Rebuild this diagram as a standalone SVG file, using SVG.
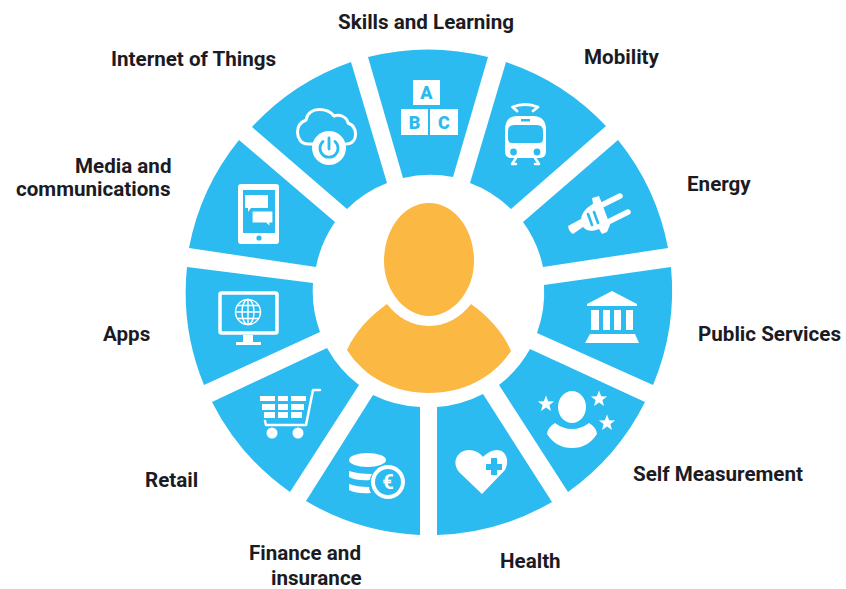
<svg xmlns="http://www.w3.org/2000/svg" width="846" height="589" viewBox="0 0 846 589">
<style>
.seg{fill:#2bbbf0}
.w{fill:#fff}
.b{fill:#2bbbf0}
.ws{fill:none;stroke:#fff;stroke-linecap:round;stroke-linejoin:round}
.bs{fill:none;stroke:#2bbbf0}
.lbl{font-family:Roboto,"Liberation Sans",sans-serif;font-weight:700;font-size:20.6px;fill:#1b1b24}
.ltr{font-family:Roboto,"Liberation Sans",sans-serif;font-weight:900;font-size:18px;fill:#2bbbf0;text-anchor:middle}
.per{fill:#fbb843}
</style>
<defs>
<polygon id="star" points="0,-8.5 2.2,-2.7 8.1,-2.6 3.4,1.1 5,7 0,3.6 -5,7 -3.4,1.1 -8.1,-2.6 -2.2,-2.7"/>
</defs>
<rect width="846" height="589" fill="#fff"/>

<g id="skills-and-learning">
<path class="seg" d="M368,57 A244,244 0 0 1 488,57 L453,177 A117,117 0 0 0 403,178 Z"/>
<g class="w"><rect x="413" y="80" width="27" height="25"/><rect x="401" y="109" width="27" height="26"/><rect x="430" y="109" width="28" height="26"/></g>
<text class="ltr" x="426.500" y="99">A</text><text class="ltr" x="414.500" y="128.500">B</text><text class="ltr" x="444" y="128.500">C</text>
<text class="lbl" x="338" y="29">Skills and Learning</text>
</g>

<g id="mobility">
<path class="seg" d="M506,62 A244,244 0 0 1 606,126 L511,209 A117,117 0 0 0 470,183 Z"/>
<path class="w" d="M517,116 H533 Q546,116 546,130 V151 Q546,158 540,158 H511 Q505,158 505,151 V130 Q505,116 517,116 Z"/>
<path class="b" d="M514,125 H537 Q543,125 543,131 V139 Q543,143 539,143 H512 Q508,143 508,139 V131 Q508,125 514,125 Z"/>
<rect class="b" x="521" y="119" width="9" height="2.500"/>
<circle class="b" cx="513.500" cy="152" r="3.400"/><circle class="b" cx="537" cy="152" r="3.400"/>
<path class="ws" stroke-width="2.800" d="M517,111 L512.500,107 Q525,102 538,107 L533,111"/>
<path class="ws" stroke-width="2.500" d="M516,158 L512,164 H516 M535,158 L539,164 H535"/>
<text class="lbl" x="584" y="64">Mobility</text>
</g>

<g id="energy">
<path class="seg" d="M618,140 A244,244 0 0 1 668,248 L543,267 A117,117 0 0 0 523,222 Z"/>
<path class="w" d="M568,226 L581,219 C582,212 587,207 593,204 L592,198 L599,196 L601,201 L610,225 L607,232 L602,234 L599,229 C592,232 586,231 583,227 L573,234 Q569,232 568,226 Z"/>
<g class="ws" stroke-width="5.500"><path d="M600,206 L620,196"/><path d="M606,223 L628,212"/></g>
<g class="bs" stroke-width="2.600" stroke-linecap="round"><path d="M588,214 L592,225"/><path d="M594,212 L598,223"/></g>
<text class="lbl" x="687" y="191">Energy</text>
</g>

<g id="public-services">
<path class="seg" d="M671,267 A244,244 0 0 1 653,385 L537,333 A117,117 0 0 0 544,285 Z"/>
<g class="w">
<polygon points="612,291 637,304 637,306 587,306 587,304"/>
<rect x="591" y="310" width="8" height="20"/><rect x="603" y="310" width="7" height="20"/><rect x="614" y="310" width="7" height="20"/><rect x="626" y="310" width="7" height="20"/>
<polygon points="590,334 635,334 639,343 585,343"/>
</g>
<text class="lbl" x="698" y="341">Public Services</text>
</g>

<g id="self-measurement">
<path class="seg" d="M645,402 A244,244 0 0 1 568,492 L499,385 A117,117 0 0 0 530,349 Z"/>
<g class="w">
<ellipse cx="572" cy="407" rx="14" ry="16"/>
<path d="M555,423 Q563,429 572,429 Q581,429 589,423 Q596,427 597,434 Q588,448 572,448 Q556,448 547,434 Q548,427 555,423 Z"/>
<use href="#star" x="546" y="404"/><use href="#star" x="599" y="399"/><use href="#star" x="607" y="423"/>
</g>
<text class="lbl" x="633" y="481">Self Measurement</text>
</g>

<g id="health">
<path class="seg" d="M552,502 A244,244 0 0 1 437,535 V407 A117,117 0 0 0 483,394 Z"/>
<path class="w" d="M482,494 L460,473 C450,462 458,450 469,450 C475,450 480,453 483,457 C487,453 492,450 497,450 C506,450 510,461 505,470 Z"/>
<path class="b" d="M491,458 H497 V464 H502 V470 H497 V475 H491 V470 H486 V464 H491 Z"/>
<text class="lbl" x="500" y="568">Health</text>
</g>

<g id="finance-and-insurance">
<path class="seg" d="M420,535 A244,244 0 0 1 306,501 L373,395 A117,117 0 0 0 420,407 Z"/>
<g class="w">
<ellipse cx="367.500" cy="460" rx="18.500" ry="7"/>
<path d="M349,471 Q358,474 372,474 Q370,477 370,480 Q357,481 349,477 Z"/>
<path d="M349,484 Q357,487 369,487 Q369,490 371,493 Q357,494 349,490 Z"/>
<circle cx="388" cy="482" r="17"/>
</g>
<circle class="b" cx="388" cy="482" r="13"/>
<text x="388" y="489" text-anchor="middle" font-family="Roboto,'Liberation Sans',sans-serif" font-weight="700" font-size="20" fill="#fff">€</text>
<text class="lbl" x="249" y="560">Finance and</text>
<text class="lbl" x="271" y="584.500">insurance</text>
</g>

<g id="retail">
<path class="seg" d="M212,402 A244,244 0 0 0 290,492 L359,385 A117,117 0 0 1 327,348 Z"/>
<g class="w">
<rect x="260" y="396" width="15" height="5"/><rect x="278" y="396" width="10" height="5"/><rect x="291" y="396" width="15" height="5"/>
<rect x="262" y="404" width="13" height="6"/><rect x="278" y="404" width="10" height="6"/><rect x="291" y="404" width="13" height="6"/>
<rect x="264" y="412" width="11" height="6"/><rect x="278" y="412" width="10" height="6"/><rect x="291" y="412" width="11" height="6"/>
<circle cx="272" cy="433" r="5.500"/><circle cx="298" cy="433" r="5.500"/>
</g>
<path class="ws" stroke-width="2.500" d="M320,390 H313 L306,425 H266 L265,421"/>
<text class="lbl" x="145" y="487">Retail</text>
</g>

<g id="apps">
<path class="seg" d="M187,267 A244,244 0 0 0 204,385 L320,332 A117,117 0 0 1 313,283 Z"/>
<rect class="ws" x="220" y="293" width="57" height="40" rx="1.500" stroke-width="3.500"/>
<path class="w" d="M243,335 H253 V342 H261 V345 H236 V342 H243 Z"/>
<g class="ws" stroke-width="1.400">
<circle cx="248" cy="312" r="12.500"/>
<ellipse cx="248" cy="312" rx="6" ry="12.500"/>
<path d="M248,299.500 V324.500 M235.500,312 H260.500 M237.500,305.500 H258.500 M237.500,318.500 H258.500"/>
</g>
<text class="lbl" x="103" y="341">Apps</text>
</g>

<g id="media-and-communications">
<path class="seg" d="M189,248 A244,244 0 0 1 239,140 L335,222 A117,117 0 0 0 316,267 Z"/>
<rect class="w" x="238" y="184" width="41" height="60" rx="3"/>
<rect class="b" x="243" y="190" width="32" height="43"/>
<circle class="b" cx="259" cy="238" r="2.600"/>
<path class="w" d="M245,195 H268 V208 H251 L248,212 V208 H245 Z"/>
<path class="w" stroke="#2bbbf0" stroke-width="1.200" d="M252,211 H273 V223 H270 V227 L266,223 H252 Z"/>
<text class="lbl" x="75" y="173">Media and</text>
<text class="lbl" x="16" y="196">communications</text>
</g>

<g id="internet-of-things">
<path class="seg" d="M252,127 A244,244 0 0 1 351,62 L387,183 A117,117 0 0 0 347,209 Z"/>
<path class="ws" stroke-width="3" d="M315,144 H308 C301,144 297.500,138 297.500,132 C297.500,126 301,122 306,120 C307,113 313,109.500 319,109.500 C325,109.500 331,112 334,116 C340,114 347,117 348,123 C353,125 355.500,129 355.500,134 C355.500,140 352,144 346,144"/>
<circle class="w" cx="329" cy="148" r="17"/>
<path class="bs" stroke-width="2.800" stroke-linecap="round" d="M323,141.500 A9,9 0 1 0 335,141.500 M329,138 V149"/>
<text class="lbl" x="111" y="66">Internet of Things</text>
</g>

<g id="person">
<path class="per" d="M429,203 C455,203 474,230 474,261 C474,292 452,316 429,316 C406,316 384,292 384,261 C384,230 403,203 429,203 Z"/>
<path class="per" d="M387,304 C397,317 412,326 429,326 C446,326 461,317 471,304 C488,316 503,332 511,351 C493,378 463,393 429,393 C395,393 365,378 347,350 C355,332 370,316 387,304 Z"/>
</g>
</svg>
